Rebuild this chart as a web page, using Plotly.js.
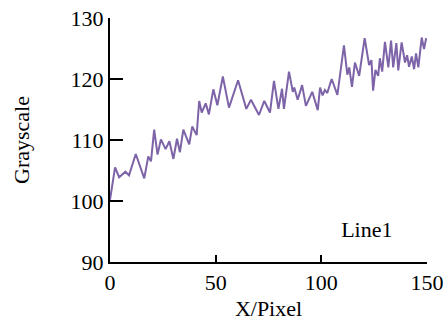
<!DOCTYPE html>
<html>
<head>
<meta charset="utf-8">
<script src="https://cdn.plot.ly/plotly-3.0.1.min.js"></script>
<style>
html,body{margin:0;padding:0;background:#fff;}
#chart{width:446px;height:325px;}
.legend .legendlines{display:none;}
</style>
</head>
<body>
<div id="chart"></div>
<script>
var seriesName = "Line1";
var xPixel = [0, 2.4, 4.3, 7.3, 9.0, 12.2, 16.2, 18.1, 19.4, 20.9, 22.5, 24.1, 26.3, 28.1, 30.0, 31.7, 33.1, 34.7, 37.5, 38.9, 41.0, 42.2, 43.4, 45.3, 46.8, 48.9, 50.8, 53.4, 56.3, 60.6, 64.5, 66.7, 70.5, 73.0, 75.7, 77.6, 79.7, 81.4, 82.3, 84.7, 86.5, 87.2, 88.8, 90.9, 92.7, 95.7, 98.3, 99.4, 100.6, 101.7, 102.8, 104.9, 107.6, 110.7, 112.3, 113.2, 114.5, 115.9, 117.9, 120.5, 122.6, 123.7, 124.5, 125.6, 126.9, 127.7, 128.8, 130.1, 131.7, 133.0, 134.0, 135.5, 136.4, 138.0, 139.6, 140.6, 141.5, 142.8, 143.9, 144.8, 145.9, 147.5, 148.6, 149.6];
var grayscale = [100.2, 105.5, 103.9, 104.8, 104.2, 107.7, 103.7, 107.3, 106.5, 111.7, 107.6, 110.1, 108.5, 109.8, 106.9, 110.2, 108.0, 111.7, 109.3, 112.2, 110.8, 116.4, 114.5, 116.0, 114.2, 118.3, 115.7, 120.4, 115.3, 119.8, 115.1, 116.6, 114.1, 116.4, 114.5, 119.7, 115.1, 118.4, 115.1, 121.2, 117.9, 118.6, 116.6, 119.0, 115.6, 117.9, 114.9, 118.6, 117.3, 118.2, 117.7, 120.0, 117.4, 125.5, 120.7, 121.9, 118.7, 122.7, 120.5, 126.7, 122.3, 123.1, 118.1, 121.5, 120.5, 123.4, 121.2, 126.1, 121.9, 126.3, 121.9, 125.9, 121.4, 126.0, 122.7, 123.9, 122.0, 123.7, 121.6, 124.2, 121.9, 126.8, 124.9, 126.7];
var xTicks = [0, 50, 100, 150];
var yTicks = [90, 100, 110, 120, 130];
var xTitle = "X/Pixel";
var yTitle = "Grayscale";

var fontFam = "Liberation Serif, Times New Roman, serif";
var data = [{
  x: xPixel, y: grayscale, type: "scatter", mode: "lines", name: seriesName,
  line: {color: "#7d63a7", width: 2}, showlegend: true
}];
var layout = {
  width: 446, height: 325,
  margin: {l: 110, r: 19, t: 18, b: 63},
  paper_bgcolor: "#fff", plot_bgcolor: "#fff",
  font: {family: fontFam, size: 22, color: "#000"},
  showlegend: true,
  legend: {x: 0.909, y: 0.135, xanchor: "right", yanchor: "middle", bgcolor: "rgba(0,0,0,0)", font: {family: fontFam, size: 22, color: "#000"}},
  xaxis: {
    range: [0, 150], tickvals: xTicks, ticktext: xTicks.map(String),
    showgrid: false, zeroline: false, showline: true, linecolor: "#000", linewidth: 2,
    ticks: "inside", ticklen: 7, tickwidth: 2, tickcolor: "#000",
    title: {text: xTitle, font: {family: fontFam, size: 22}, standoff: 6},
    tickfont: {family: fontFam, size: 22}
  },
  yaxis: {
    range: [90, 130], tickvals: yTicks, ticktext: yTicks.map(String),
    showgrid: false, zeroline: false, showline: true, linecolor: "#000", linewidth: 2,
    ticks: "inside", ticklen: 13, tickwidth: 2, tickcolor: "#000",
    title: {text: yTitle, font: {family: fontFam, size: 22}, standoff: 35},
    tickfont: {family: fontFam, size: 22}
  }
};
Plotly.newPlot("chart", data, layout, {displayModeBar: false, staticPlot: true});
</script>
</body>
</html>
